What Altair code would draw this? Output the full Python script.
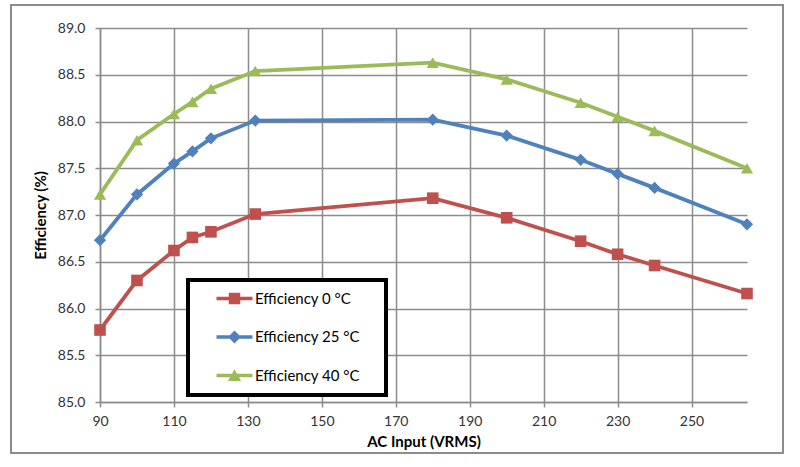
import altair as alt
import pandas as pd

# AC input voltage (VRMS) at which efficiency was measured
ac_input = [90, 100, 110, 115, 120, 132, 180, 200, 220, 230, 240, 265]

# Efficiency (%) at each ambient temperature
eff_0c = [85.77, 86.30, 86.62, 86.76, 86.82, 87.01, 87.18, 86.97, 86.72, 86.58, 86.46, 86.16]
eff_25c = [86.73, 87.22, 87.55, 87.68, 87.82, 88.01, 88.02, 87.85, 87.59, 87.44, 87.29, 86.90]
eff_40c = [87.22, 87.80, 88.08, 88.21, 88.35, 88.54, 88.63, 88.45, 88.20, 88.05, 87.90, 87.50]

series_names = ["Efficiency 0 °C", "Efficiency 25 °C", "Efficiency 40 °C"]
series_values = [eff_0c, eff_25c, eff_40c]

x_ticks = [90, 110, 130, 150, 170, 190, 210, 230, 250]
y_ticks = [85.0, 85.5, 86.0, 86.5, 87.0, 87.5, 88.0, 88.5, 89.0]

colors = ["#C0504D", "#4F81BD", "#9BBB59"]
marker_shapes = ["square", "diamond", "triangle-up"]
marker_sizes = [135, 150, 150]

# legend symbols: a short line segment with the series marker on top
# (unit = half the symbol's nominal side; the line reaches 3 units each way).
# The trailing bare move-to widens the entry bounds so the legend box gets
# some room to the right of the labels.
legend_paths = [
    "M-3,-0.29H3V0.29H-3Z M-0.96,-0.96H0.96V0.96H-0.96Z M23.4,0",
    "M-3,-0.29H3V0.29H-3Z M0,-1.08L1.08,0L0,1.08L-1.08,0Z M23.4,0",
    "M-3,-0.29H3V0.29H-3Z M0,-1.05L1.1,0.9H-1.1Z M23.4,0",
]

rows = []
for name, vals in zip(series_names, series_values):
    for v_in, eff in zip(ac_input, vals):
        rows.append({"ac": v_in, "eff": eff, "series": name})
df = pd.DataFrame(rows)

FONT = "Lato"
GRID = "#8c8c8c"
W, H = 647, 374

x_enc = alt.X(
    "ac:Q",
    scale=alt.Scale(domain=[90, 265], nice=False, zero=False),
    axis=alt.Axis(
        values=x_ticks,
        title="AC Input (VRMS)",
        grid=True,
        labelFlush=False,
        labelPadding=7,
        titlePadding=6,
    ),
)
y_enc = alt.Y(
    "eff:Q",
    scale=alt.Scale(domain=[85, 89], nice=False, zero=False),
    axis=alt.Axis(
        values=y_ticks,
        format=".1f",
        title="Efficiency (%)",
        grid=True,
        labelFlush=False,
        labelPadding=10,
        titlePadding=9,
    ),
)

base = alt.Chart(df)

series_layers = []
for name, col, shp, sz in zip(series_names, colors, marker_shapes, marker_sizes):
    one = base.transform_filter(alt.datum.series == name)
    series_layers.append(
        one.mark_line(strokeWidth=3.8, color=col).encode(x=x_enc, y=y_enc)
    )
    series_layers.append(
        one.mark_point(shape=shp, filled=True, size=sz, opacity=1, color=col).encode(
            x=x_enc, y=y_enc
        )
    )

# layer with no rows of its own: it only carries the legend (domains are explicit)
legend_layer = base.transform_filter("false").mark_point(filled=True, opacity=1).encode(
    x=x_enc,
    y=y_enc,
    color=alt.Color(
        "series:N",
        scale=alt.Scale(domain=series_names, range=colors),
        legend=alt.Legend(
            title=None,
            orient="none",
            legendX=88,
            legendY=252,
            symbolSize=144,
            symbolOpacity=1,
            symbolStrokeWidth=0,
            labelFontSize=15,
            labelFont=FONT,
            labelColor="#000000",
            labelOffset=13,
            symbolOffset=28,
            rowPadding=22.5,
            padding=11,
            fillColor="white",
            strokeColor="black",
        ),
    ),
    shape=alt.Shape(
        "series:N",
        scale=alt.Scale(domain=series_names, range=legend_paths),
    ),
)

# outer chart frame
frame = alt.Chart(pd.DataFrame({"k": [0]})).mark_rect(
    fillOpacity=0, stroke="#8c8c8c", strokeWidth=2
).encode(
    x=alt.value(-89), x2=alt.value(683), y=alt.value(-23), y2=alt.value(425)
)

chart = (
    alt.layer(frame, *series_layers, legend_layer)
    .properties(
        width=W,
        height=H,
        padding={"left": 100, "top": 28, "right": 53, "bottom": 65},
        autosize=alt.AutoSizeParams(type="none"),
        background="white",
    )
    .configure_view(strokeWidth=0)
    .configure_axis(
        gridColor=GRID,
        gridWidth=1.5,
        domainColor=GRID,
        domainWidth=1.5,
        tickColor=GRID,
        tickWidth=1.5,
        tickSize=5,
        labelFont=FONT,
        labelFontSize=14,
        labelColor="#333333",
        titleFont=FONT,
        titleFontSize=15,
        titleFontWeight="bold",
        titleColor="#000000",
    )
    .configure_legend(strokeWidth=4)
)

chart.save("out.html", embed_options={"renderer": "svg", "actions": False})
